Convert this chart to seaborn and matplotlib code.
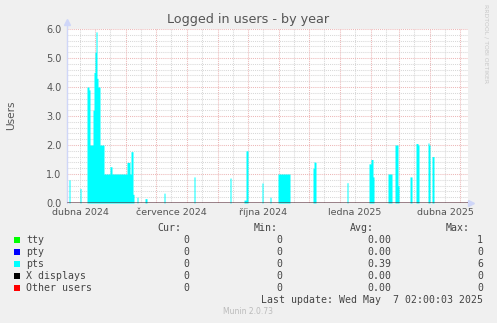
import numpy as np
import pandas as pd
import matplotlib
matplotlib.use("Agg")
import matplotlib.pyplot as plt
import matplotlib.dates as mdates
from matplotlib.patches import Rectangle
import seaborn as sns

sns.set_theme(style="white")
plt.rcParams['font.family'] = ['DejaVu Sans']

# ---------------- data ----------------
range_start = "2024-04-03"
range_end = "2025-05-09"

pts_dates = [
    "2024-04-05", "2024-04-16",
    "2024-04-23", "2024-04-24", "2024-04-25", "2024-04-26", "2024-04-27",
    "2024-04-28", "2024-04-29", "2024-04-30", "2024-05-01", "2024-05-02",
    "2024-05-03", "2024-05-04", "2024-05-05", "2024-05-06", "2024-05-07",
    "2024-05-08", "2024-05-09", "2024-05-10", "2024-05-11", "2024-05-12",
    "2024-05-13", "2024-05-14", "2024-05-15", "2024-05-16", "2024-05-17",
    "2024-05-18", "2024-05-19", "2024-05-20", "2024-05-21", "2024-05-22",
    "2024-05-23", "2024-05-24", "2024-05-25", "2024-05-26", "2024-05-27",
    "2024-05-28", "2024-05-29", "2024-05-30", "2024-05-31", "2024-06-01",
    "2024-06-02", "2024-06-03", "2024-06-04", "2024-06-05", "2024-06-06",
    "2024-06-07", "2024-06-08",
    "2024-06-12", "2024-06-20", "2024-06-21", "2024-07-09", "2024-08-08",
    "2024-09-13", "2024-09-27", "2024-09-28", "2024-09-29", "2024-09-30",
    "2024-10-15", "2024-10-23",
    "2024-10-31", "2024-11-01", "2024-11-02", "2024-11-03", "2024-11-04",
    "2024-11-05", "2024-11-06", "2024-11-07", "2024-11-08", "2024-11-09",
    "2024-11-10", "2024-11-11",
    "2024-12-05", "2024-12-06", "2024-12-07", "2025-01-08",
    "2025-01-30", "2025-01-31", "2025-02-01", "2025-02-02", "2025-02-03",
    "2025-02-18", "2025-02-19", "2025-02-20", "2025-02-21",
    "2025-02-25", "2025-02-26", "2025-02-27", "2025-02-28",
    "2025-03-12", "2025-03-13", "2025-03-18", "2025-03-19", "2025-03-20",
    "2025-03-30", "2025-03-31", "2025-04-03", "2025-04-04",
]
pts_values = [
    0.8, 0.5,
    4.0, 4.0, 3.9, 2.0, 2.0,
    2.0, 3.2, 4.5, 5.2, 5.9,
    4.3, 4.0, 4.0, 2.0, 2.0,
    2.0, 2.0, 1.0, 1.0, 1.0,
    1.0, 1.0, 1.0, 1.25, 1.25,
    1.0, 1.0, 1.0, 1.0, 1.0,
    1.0, 1.0, 1.0, 1.0, 1.0,
    1.0, 1.0, 1.0, 1.0, 1.0,
    1.4, 1.4, 1.4, 1.0, 1.77,
    1.77, 0.3,
    0.2, 0.15, 0.15, 0.34, 0.9,
    0.86, 0.1, 0.1, 1.8, 1.8,
    0.69, 0.2,
    1.0, 1.0, 1.0, 1.0, 1.0,
    1.0, 1.0, 1.0, 1.0, 1.0,
    1.0, 1.0,
    1.2, 1.42, 1.4, 0.7,
    1.35, 1.35, 1.5, 1.5, 0.9,
    1.0, 1.0, 1.0, 1.0,
    2.0, 2.0, 2.0, 0.6,
    0.9, 0.9, 2.05, 2.05, 2.0,
    2.07, 2.0, 1.6, 1.6,
]

series_names = ["tty", "pty", "pts", "X displays", "Other users"]
series_colors = ["#00FF00", "#0000FF", "#00FFFF", "#000000", "#FF0000"]
cur_vals = ["0", "0", "0", "0", "0"]
min_vals = ["0", "0", "0", "0", "0"]
avg_vals = ["0.00", "0.00", "0.39", "0.00", "0.00"]
max_vals = ["1", "0", "6", "0", "0"]

label_months = ["2024-04-01", "2024-07-01", "2024-10-01", "2025-01-01", "2025-04-01"]
label_texts = ["dubna 2024", "července 2024", "října 2024", "ledna 2025", "dubna 2025"]
y_ticks = [0, 1, 2, 3, 4, 5, 6]

title = "Logged in users - by year"
last_update = "Last update: Wed May  7 02:00:03 2025"

# ---------------- build frame ----------------
days = pd.date_range(range_start, range_end, freq="D")
pts = pd.Series(pts_values, index=pd.to_datetime(pts_dates)).reindex(days, fill_value=0.0)
df = pd.DataFrame({"date": days, "pts": pts.values, "other": np.zeros(len(days))})

# ---------------- figure ----------------
W, H = 497, 323
L, R, T, B = 67, 468, 29, 203
fig = plt.figure(figsize=(W / 100, H / 100), dpi=100, facecolor="#F0F0F0")
ax = fig.add_axes([L / W, 1 - B / H, (R - L) / W, (B - T) / H])
ax.set_facecolor("white")

xmin, xmax = pd.Timestamp(range_start), pd.Timestamp(range_end)
ax.set_xlim(xmin, xmax)
ax.set_ylim(0, 6)

# grid
grid_minor = "#D8D8D8"
grid_major = "#EDB8B8"
dash = (0, (1, 1))
for yv in np.arange(0.2, 6.01, 0.2):
    if abs(yv - round(yv)) > 1e-6:
        ax.axhline(yv, color=grid_minor, lw=0.75, ls=dash, zorder=0.5)
for yv in y_ticks[1:]:
    ax.axhline(yv, color=grid_major, lw=0.75, ls=dash, zorder=0.6)
month_starts = pd.date_range("2024-04-01", "2025-06-01", freq="MS")
for m in month_starts:
    if xmin < m < xmax:
        ax.axvline(m, color=grid_major, lw=0.75, ls=dash, zorder=0.6)
    mid = m + pd.Timedelta(days=15)
    if xmin < mid < xmax:
        ax.axvline(mid, color=grid_minor, lw=0.75, ls=dash, zorder=0.5)

# pts area
ax.fill_between(df["date"], df["pts"], step="post", color="#00FFFF", lw=0, zorder=2)

# other series lines (all zero) drawn with seaborn
for name, col in zip(["tty", "pty", "X displays", "other"], ["#00FF00", "#0000FF", "#000000", "#FF0000"]):
    sns.lineplot(data=df, x="date", y="other", color=col, lw=1.0, ax=ax, zorder=3,
                 drawstyle="steps-post", legend=False)

for s in ax.spines.values():
    s.set_visible(False)

# axes arrows
axis_col = "#CFD6F8"
ax.plot([xmin, xmin], [0, 6.2], color=axis_col, lw=1, clip_on=False, zorder=1)
ax.plot([xmin], [6.25], marker="^", color=axis_col, ms=4, clip_on=False, zorder=1)
xend = xmax + pd.Timedelta(days=3)
ax.plot([xmax, xend], [0, 0], color=axis_col, lw=1, clip_on=False, zorder=1)
ax.plot([xend], [0], marker=">", color=axis_col, ms=4, clip_on=False, zorder=1)

# ticks
text_col = "#555555"
lab_pos = [pd.Timestamp(m) + pd.Timedelta(days=15) for m in label_months]
ax.set_xticks(lab_pos)
ax.set_xticklabels(label_texts)
ax.set_yticks(y_ticks)
ax.set_yticklabels([f"{v:.1f}" for v in y_ticks])
ax.tick_params(axis="x", length=0, pad=3.8, labelsize=6.8, colors=text_col)
ax.tick_params(axis="y", length=0, pad=4.0, labelsize=7.0, colors=text_col)
ax.set_xlabel("")
ax.set_ylabel("")

def fx(x):
    return x / W

def fy(y):
    return 1 - y / H

fig.text(fx(248), fy(19), title, ha="center", va="center", fontsize=9.2, color=text_col)
fig.text(fx(11), fy(115), "Users", ha="center", va="center", rotation=90, fontsize=7.6, color=text_col)
fig.text(fx(485.5), fy(44), "RRDTOOL / TOBI OETIKER", ha="center", va="center",
         rotation=-90, fontsize=4.4, color="#C8C8C8")

mono = "DejaVu Sans Mono"
fs = 7.1
leg_col = "#444444"
hdr_y = 228
cols_hdr = [("Cur:", 181), ("Min:", 278), ("Avg:", 374), ("Max:", 470)]
for t, xr in cols_hdr:
    fig.text(fx(xr), fy(hdr_y), t, ha="right", va="center", family=mono, fontsize=fs, color=leg_col)
row_y = [240, 252, 264, 276, 288]
col_x = [189, 282, 391, 483]
for i, name in enumerate(series_names):
    yy = row_y[i]
    fig.patches.append(Rectangle((fx(14), fy(yy + 3)), 6 / W, 6 / H, transform=fig.transFigure,
                                 facecolor=series_colors[i], edgecolor="none", figure=fig))
    fig.text(fx(26), fy(yy), name, ha="left", va="center", family=mono, fontsize=fs, color=leg_col)
    for vals, xr in zip([cur_vals, min_vals, avg_vals, max_vals], col_x):
        fig.text(fx(xr), fy(yy), vals[i], ha="right", va="center", family=mono, fontsize=fs, color=leg_col)

fig.text(fx(483), fy(300), last_update, ha="right", va="center", family=mono, fontsize=fs, color=leg_col)
fig.text(fx(248), fy(312), "Munin 2.0.73", ha="center", va="center", fontsize=5.5, color="#BBBBBB")

fig.savefig("out.png", dpi=100, facecolor=fig.get_facecolor())
